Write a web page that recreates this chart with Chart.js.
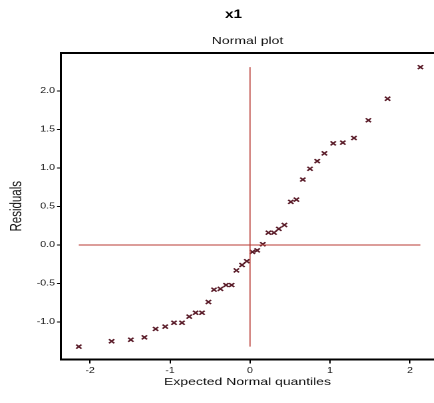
<!DOCTYPE html>
<html>
<head>
<meta charset="utf-8">
<script src="https://cdn.jsdelivr.net/npm/chart.js@4.4.1/dist/chart.umd.min.js"></script>
<style>
  html, body { margin: 0; padding: 0; background: #fff; overflow: hidden; }
  #wrap { width: 434px; height: 403px; overflow: hidden; }
  #qq { display: block; }
</style>
</head>
<body>
<!-- the source picture is stretched sideways, so the canvas is too (inline size kept by Chart.js) -->
<div id="wrap"><canvas id="qq" width="351" height="403" style="width:467px;height:403px"></canvas></div>
<script>
// Expected normal quantiles (x) and residuals (y)
const quantiles = [-2.14, -1.73, -1.49, -1.32, -1.18, -1.06, -0.95, -0.85, -0.76, -0.68,
  -0.60, -0.52, -0.45, -0.37, -0.30, -0.23, -0.17, -0.10, -0.04, 0.03,
  0.09, 0.16, 0.23, 0.30, 0.36, 0.43, 0.51, 0.58, 0.66, 0.75,
  0.84, 0.93, 1.04, 1.16, 1.30, 1.48, 1.72, 2.13];
const residuals = [-1.32, -1.25, -1.23, -1.20, -1.09, -1.06, -1.01, -1.01, -0.93, -0.88,
  -0.88, -0.74, -0.58, -0.57, -0.52, -0.52, -0.33, -0.26, -0.21, -0.09,
  -0.07, 0.01, 0.16, 0.16, 0.21, 0.26, 0.56, 0.59, 0.85, 0.99,
  1.09, 1.19, 1.32, 1.33, 1.39, 1.62, 1.90, 2.31];

// Tick marks and their labels
const xTickValues = [-2, -1, 0, 1, 2];
const xTickLabels = ['-2', '-1', '0', '1', '2'];
const yTickValues = [-1.0, -0.5, 0.0, 0.5, 1.0, 1.5, 2.0];
const yTickLabels = ['-1.0', '-0.5', '0.0', '0.5', '1.0', '1.5', '2.0'];

const FONT = 'Liberation Sans, Arial, Helvetica, sans-serif';
const refColor = '#b83a34';
const markColor = '#5a1c29';

const points = quantiles.map((q, i) => ({ x: q, y: residuals[i] }));
const xLo = Math.min(...quantiles), xHi = Math.max(...quantiles);
const yLo = Math.min(...residuals), yHi = Math.max(...residuals);

const xRange = { min: -2.3625, max: 2.3 };

new Chart(document.getElementById('qq'), {
  type: 'scatter',
  data: {
    datasets: [
      {
        // reference line at residual = 0
        type: 'line',
        data: [{ x: xLo, y: 0 }, { x: xHi, y: 0 }],
        borderColor: refColor,
        borderWidth: 1,
        pointRadius: 0,
        xAxisID: 'x',
        yAxisID: 'y'
      },
      {
        // reference line at quantile = 0
        type: 'line',
        data: [{ x: 0, y: yLo }, { x: 0, y: yHi }],
        borderColor: refColor,
        borderWidth: 0.8,
        pointRadius: 0,
        xAxisID: 'x',
        yAxisID: 'y'
      },
      {
        label: 'x1',
        data: points,
        pointStyle: 'crossRot',
        pointRadius: 2.8,
        borderColor: markColor,
        backgroundColor: markColor,
        pointBorderWidth: 1.4,
        xAxisID: 'x',
        yAxisID: 'y'
      }
    ]
  },
  options: {
    responsive: false,
    animation: false,
    devicePixelRatio: 2,
    layout: { padding: 0 },
    plugins: {
      legend: { display: false },
      tooltip: { enabled: false },
      title: {
        display: true,
        text: 'x1',
        color: '#000',
        font: { family: FONT, size: 11.5, weight: 'bold', lineHeight: 1.2 },
        padding: { top: 7.7, bottom: 0 }
      }
    },
    scales: {
      x: {
        type: 'linear',
        position: 'bottom',
        min: xRange.min,
        max: xRange.max,
        afterBuildTicks: s => { s.ticks = xTickValues.map(v => ({ value: v })); },
        afterFit: s => { s.height = 43.5; },
        grid: { drawOnChartArea: false, drawTicks: true, tickLength: 4, color: '#000', lineWidth: 1 },
        border: { display: true, color: '#000', width: 2 },
        ticks: {
          color: '#1a1a1a',
          padding: 2.5,
          maxRotation: 0,
          font: { family: FONT, size: 8 },
          callback: (v, i) => xTickLabels[i]
        },
        title: {
          display: true,
          text: 'Expected Normal quantiles',
          color: '#111',
          font: { family: FONT, size: 10.5, lineHeight: 1.2 },
          padding: { top: 0, bottom: 14.7 }
        }
      },
      top: {
        type: 'linear',
        position: 'top',
        min: xRange.min,
        max: xRange.max,
        afterFit: s => { s.height = 53 - 21.5; },
        grid: { display: false },
        border: { display: true, color: '#000', width: 2 },
        ticks: { display: false },
        title: {
          display: true,
          text: 'Normal plot',
          color: '#111',
          font: { family: FONT, size: 10.5, lineHeight: 1.2 },
          padding: { top: 13.2, bottom: 0 }
        }
      },
      y: {
        type: 'linear',
        position: 'left',
        min: -1.487,
        max: 2.494,
        afterBuildTicks: s => { s.ticks = yTickValues.map(v => ({ value: v })); },
        afterFit: s => { s.width = 45.85; },
        grid: { drawOnChartArea: false, drawTicks: true, tickLength: 3, color: '#000', lineWidth: 1 },
        border: { display: true, color: '#000', width: 1.5 },
        ticks: {
          color: '#1a1a1a',
          padding: 1.5,
          font: { family: FONT, size: 8 },
          callback: (v, i) => yTickLabels[i]
        },
        title: {
          display: true,
          text: 'Residuals',
          color: '#111',
          font: { family: FONT, size: 11.5, lineHeight: 1.2 },
          padding: { top: 5.9, bottom: 0 }
        }
      },
      // empty strip on the right, outside the visible window
      side: {
        type: 'linear',
        position: 'right',
        afterFit: s => { s.width = 24.8; },
        grid: { display: false },
        border: { display: false },
        ticks: { display: false }
      }
    }
  }
});
</script>
</body>
</html>
